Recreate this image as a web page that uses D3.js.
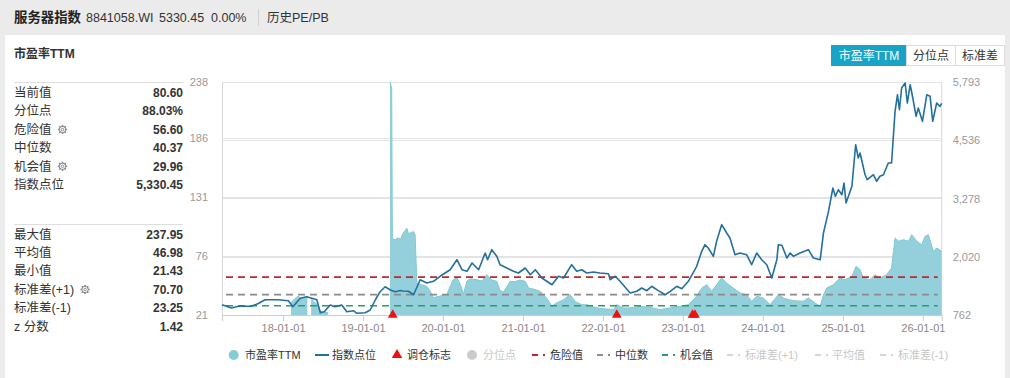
<!DOCTYPE html>
<html><head><meta charset="utf-8">
<script src="https://cdn.jsdelivr.net/npm/d3@7/dist/d3.min.js"></script>
<style>
body{margin:0;background:#ebebeb;}
svg{display:block;font-family:"Liberation Sans","Noto Sans CJK SC",sans-serif;}
</style>
</head><body>
<svg id="c" width="1010" height="378"></svg>
<script>
// ---------------- DATA ----------------
const indexSeries = [
["2017-03-28",984],["2017-05-10",913],["2017-06-11",950],["2017-08-09",950],["2017-09-10",1010],
["2017-10-11",1092],["2017-12-10",1092],["2018-01-25",1071],["2018-02-15",941],["2018-03-20",1122],
["2018-04-19",1157],["2018-06-04",1092],["2018-06-20",812],["2018-07-08",833],["2018-08-04",978],
["2018-08-26",941],["2018-09-26",978],["2018-10-19",833],["2018-11-18",855],["2018-12-04",799],
["2019-01-11",812],["2019-02-03",870],["2019-02-26",1086],["2019-03-20",1265],["2019-04-12",1373],
["2019-05-06",1302],["2019-05-28",1265],["2019-06-20",1290],["2019-07-04",1280],["2019-07-27",1274],
["2019-08-20",1200],["2019-09-19",1524],["2019-10-20",1453],["2019-11-19",1490],["2019-12-19",1598],
["2020-02-03",1740],["2020-03-05",1956],["2020-03-28",1740],["2020-04-20",1705],["2020-05-13",1885],
["2020-06-12",1740],["2020-07-12",2101],["2020-07-23",1956],["2020-08-11",2172],["2020-09-03",2029],
["2020-09-18",1848],["2020-10-19",1777],["2020-11-18",1705],["2020-12-11",1669],["2021-01-11",1777],
["2021-02-03",1632],["2021-02-26",1740],["2021-03-28",1561],["2021-05-13",1416],["2021-06-12",1598],
["2021-07-05",1561],["2021-08-11",1848],["2021-09-03",1705],["2021-09-26",1740],["2021-10-19",1669],
["2021-11-18",1690],["2021-12-18",1669],["2022-01-26",1654],["2022-02-03",1524],["2022-02-26",1598],
["2022-03-20",1490],["2022-05-05",1237],["2022-06-04",1274],["2022-06-27",1345],["2022-07-20",1287],
["2022-08-11",1382],["2022-09-11",1287],["2022-10-12",1200],["2022-11-04",1274],["2022-12-04",1382],
["2022-12-27",1330],["2023-01-26",1490],["2023-03-05",1813],["2023-03-28",2137],["2023-04-12",2280],
["2023-04-27",2209],["2023-05-20",2029],["2023-06-04",2353],["2023-06-27",2712],["2023-07-20",2532],
["2023-08-04",2424],["2023-08-27",2064],["2023-09-19",2101],["2023-10-19",2064],["2023-11-11",1848],
["2023-12-04",2101],["2023-12-27",1956],["2024-01-19",1848],["2024-02-11",1561],["2024-03-05",1956],
["2024-03-12",2280],["2024-03-28",2267],["2024-04-20",1993],["2024-05-05",2101],["2024-05-20",2029],
["2024-06-19",2101],["2024-07-27",2172],["2024-08-19",1993],["2024-09-19",1956],["2024-10-04",2532],
["2024-10-27",3001],["2024-11-16",3504],["2024-11-27",3325],["2024-12-11",3467],["2024-12-27",3359],
["2025-01-06",3612],["2025-01-15",3180],["2025-02-03",3433],["2025-02-11",3541],["2025-02-28",4439],
["2025-03-12",4151],["2025-03-20",4259],["2025-04-12",3791],["2025-04-22",3683],["2025-05-20",3791],
["2025-06-04",3649],["2025-06-19",3757],["2025-07-05",3791],["2025-07-27",4044],["2025-08-11",4044],
["2025-08-27",5160],["2025-09-07",5518],["2025-09-16",5194],["2025-09-26",5663],["2025-10-12",5771],
["2025-10-22",5339],["2025-11-04",5734],["2025-11-16",5447],["2025-12-01",5052],["2025-12-11",5231],
["2025-12-30",4944],["2026-01-19",5518],["2026-02-03",5484],["2026-02-15",4944],["2026-03-05",5339],
["2026-03-20",5268],["2026-03-28",5330.45]
];
const peSeries = [
["2018-02-06",33],["2018-02-15",35],["2018-03-11",39.1],["2018-03-22",36],["2018-04-07",38],["2018-04-22",37],
["2018-04-23",null],
["2018-05-09",37],["2018-05-20",34],["2018-06-11",30],["2018-06-20",25],["2018-06-29",24.5],["2018-07-26",23.5],
["2018-07-27",null],
["2019-05-04",237.95],["2019-05-12",232],["2019-05-15",92],["2019-05-28",91.5],["2019-06-11",93],["2019-06-22",92],
["2019-07-02",97],["2019-07-20",102],["2019-07-28",97],["2019-08-19",99],["2019-08-27",96],["2019-09-04",51],
["2019-09-19",50],["2019-10-19",48],["2019-11-03",44],["2019-11-18",37.5],["2019-12-18",39],["2020-01-18",40.3],
["2020-02-16",54],["2020-03-05",56.5],["2020-03-20",50],["2020-04-04",41],["2020-04-19",52.7],["2020-05-04",55],
["2020-06-04",54.2],["2020-06-27",53],["2020-07-19",58.9],["2020-08-11",54],["2020-09-03",52.7],["2020-09-18",44],
["2020-10-04",43],["2020-11-03",52.7],["2020-11-26",52.5],["2020-12-18",54],["2021-01-11",52.7],["2021-01-26",46.5],
["2021-02-18",45.5],["2021-03-20",43.5],["2021-04-19",37],["2021-05-13",29.5],["2021-06-04",32.7],["2021-07-05",35.6],
["2021-08-04",40.3],["2021-08-27",34],["2021-09-26",31],["2021-10-19",31],["2021-11-18",29],["2021-12-18",27.5],
["2022-01-18",27],["2022-02-18",26.5],["2022-03-05",31],["2022-04-04",28],["2022-05-04",28],["2022-06-19",29.5],
["2022-08-04",28.5],["2022-09-18",26.4],["2022-11-03",28],["2022-12-18",29.5],["2023-01-26",31],["2023-02-26",37.2],
["2023-03-28",46.5],["2023-04-20",49.6],["2023-05-12",43.5],["2023-06-04",49.6],["2023-06-27",55.8],["2023-07-20",51.2],
["2023-08-19",46.5],["2023-09-19",41.9],["2023-10-19",40.3],["2023-11-11",34.2],["2023-12-04",38.8],["2024-01-04",37.2],
["2024-02-03",31],["2024-03-12",40.3],["2024-04-04",37.2],["2024-05-04",35.4],["2024-06-04",34.5],["2024-07-04",34.2],
["2024-07-27",37.2],["2024-08-27",32.5],["2024-09-19",29.5],["2024-10-04",40.3],["2024-10-19",46.5],["2024-11-18",49.6],
["2024-12-18",55.8],["2025-01-11",54.2],["2025-02-11",57.4],["2025-03-02",66.7],["2025-03-20",63.5],["2025-04-04",55.8],
["2025-05-04",54.2],["2025-05-27",58.9],["2025-06-19",55.8],["2025-07-19",58.9],["2025-08-11",65.1],["2025-08-27",93],
["2025-09-11",90],["2025-10-04",91.4],["2025-10-27",90],["2025-11-11",96],["2025-12-04",90],["2025-12-27",86.8],
["2026-01-11",94.6],["2026-01-26",96],["2026-02-18",80.6],["2026-03-05",83.7],["2026-03-28",80.6]
];
const markerDates = ["2019-05-17","2022-03-05","2023-02-14","2023-02-25"];
const refLines = [
  {name:"危险值", value:56.60, color:"#c3272b"},
  {name:"中位数", value:40.37, color:"#8c8c8c"},
  {name:"机会值", value:29.96, color:"#2a9d68"}
];
const leftTicks = [21,76,131,186,238];
const rightTicks = [762,2020,3278,4536,5793];
const yearTicks = ["2018-01-01","2019-01-01","2020-01-01","2021-01-01","2022-01-01","2023-01-01","2024-01-01","2025-01-01","2026-01-01"];
const peDomain = [21.43, 237.95];
const idxDomain = [762, 5793];
const dateDomain = ["2017-03-28","2026-03-28"];
const statLabelsTop = ["当前值","分位点","危险值","中位数","机会值","指数点位"];
const statValuesTop = ["80.60","88.03%","56.60","40.37","29.96","5,330.45"];
const statGearTop = [false,false,true,false,true,false];
const statLabelsBottom = ["最大值","平均值","最小值","标准差(+1)","标准差(-1)","z 分数"];
const statValuesBottom = ["237.95","46.98","21.43","70.70","23.25","1.42"];
const statGearBottom = [false,false,false,true,false,false];
const legendNames = ["市盈率TTM","指数点位","调仓标志","分位点","危险值","中位数","机会值","标准差(+1)","平均值","标准差(-1)"];
const buttonLabels = ["市盈率TTM","分位点","标准差"];

// ---------------- DRAW ----------------
const parse = d3.timeParse("%Y-%m-%d");
const svg = d3.select("#c");
svg.append("rect").attr("width",1010).attr("height",378).attr("fill","#ebebeb");
svg.append("rect").attr("x",5).attr("y",35).attr("width",1000).attr("height",343).attr("fill","#fff");

// header
const hdr = svg.append("g").attr("fill","#333");
hdr.append("text").attr("x",14).attr("y",22).attr("font-size",13.4).attr("font-weight","bold")
  .attr("font-family","'Noto Sans CJK SC',sans-serif").attr("fill","#222").text("服务器指数");
hdr.append("text").attr("x",86).attr("y",21.5).attr("font-size",12.5).text("8841058.WI");
hdr.append("text").attr("x",159).attr("y",21.5).attr("font-size",12.5).text("5330.45");
hdr.append("text").attr("x",211).attr("y",21.5).attr("font-size",12.5).text("0.00%");
hdr.append("line").attr("x1",258.5).attr("x2",258.5).attr("y1",9).attr("y2",26).attr("stroke","#d0d0d0");
hdr.append("text").attr("x",267).attr("y",21.5).attr("font-size",12.5).text("历史PE/PB");

// chart title
svg.append("text").attr("x",14).attr("y",58).attr("font-size",12).attr("font-weight","bold")
  .attr("fill","#333").text("市盈率TTM");

// buttons
const btnX = [831,906,955,1004];
buttonLabels.forEach((b,i)=>{
  svg.append("rect").attr("x",btnX[i]+0.5).attr("y",45.5).attr("width",btnX[i+1]-btnX[i]).attr("height",20)
    .attr("fill", i===0?"#19a3c6":"#fff").attr("stroke", i===0?"#19a3c6":"#dcdcdc");
  svg.append("text").attr("x",(btnX[i]+btnX[i+1])/2+0.5).attr("y",60).attr("text-anchor","middle")
    .attr("font-size",12).attr("fill", i===0?"#fff":"#333").text(b);
});

// left stats panel
function gear(g, cx, cy){
  const gg = g.append("g").attr("transform",`translate(${cx},${cy})`).attr("stroke","#888").attr("fill","none");
  for(let k=0;k<8;k++){
    const a = k*Math.PI/4;
    gg.append("line").attr("x1",Math.cos(a)*3).attr("y1",Math.sin(a)*3)
      .attr("x2",Math.cos(a)*4.6).attr("y2",Math.sin(a)*4.6).attr("stroke-width",1.6);
  }
  gg.append("circle").attr("r",3.2).attr("stroke-width",1);
  gg.append("circle").attr("r",1.3).attr("stroke-width",0.9);
}
function statBlock(labels, values, gears, y0, sepY){
  svg.append("line").attr("x1",14).attr("x2",183).attr("y1",sepY).attr("y2",sepY).attr("stroke","#dedede");
  labels.forEach((l,i)=>{
    const y = y0 + i*18.4;
    const t = svg.append("text").attr("x",14).attr("y",y).attr("dy","0.35em").attr("font-size",12.5)
      .attr("fill","#333").text(l);
    svg.append("text").attr("x",183).attr("y",y).attr("dy","0.35em").attr("text-anchor","end")
      .attr("font-size",12).attr("font-weight","bold").attr("fill","#333").text(values[i]);
    if(gears[i]){
      const w = t.node().getComputedTextLength();
      gear(svg, 14 + w + 11, y);
    }
  });
}
statBlock(statLabelsTop, statValuesTop, statGearTop, 92.7, 82.5);
statBlock(statLabelsBottom, statValuesBottom, statGearBottom, 234.3, 224.5);

// scales
const X0=222, X1=941.7, YT=82, YB=315;
const x = d3.scaleTime().domain(dateDomain.map(parse)).range([X0,X1]);
const yL = d3.scaleLinear().domain(peDomain).range([YB,YT]);
const yR = d3.scaleLinear().domain(idxDomain).range([YB,YT]);

// gridlines (both axes)
const grid = svg.append("g").attr("stroke","#e4e4e4").attr("stroke-width",1);
leftTicks.forEach(t=>{ const yy=Math.round(yL(t))+0.5; grid.append("line").attr("x1",X0).attr("x2",X1).attr("y1",yy).attr("y2",yy); });
rightTicks.forEach(t=>{ const yy=Math.round(yR(t))+0.5; grid.append("line").attr("x1",X0).attr("x2",X1).attr("y1",yy).attr("y2",yy); });
svg.append("line").attr("x1",X0+0.5).attr("x2",X0+0.5).attr("y1",YT).attr("y2",YB).attr("stroke","#d8d8d8");
svg.append("line").attr("x1",X1).attr("x2",X1).attr("y1",YT).attr("y2",YB).attr("stroke","#d8d8d8");

// PE area
const peData = peSeries.map(d=>({date:parse(d[0]), v:d[1]}));
const area = d3.area().defined(d=>d.v!==null).x(d=>x(d.date)).y0(YB).y1(d=>yL(d.v));
const topLine = d3.line().defined(d=>d.v!==null).x(d=>x(d.date)).y(d=>yL(d.v));
svg.append("path").datum(peData).attr("d",area).attr("fill","#93d0db");
svg.append("path").datum(peData).attr("d",topLine).attr("fill","none").attr("stroke","#82c8d4").attr("stroke-width",1);

// reference dashed lines
refLines.forEach(r=>{
  svg.append("line").attr("x1",X0+4).attr("x2",X1-4).attr("y1",yL(r.value)).attr("y2",yL(r.value))
    .attr("stroke",r.color).attr("stroke-width",1.6).attr("stroke-dasharray","7,5");
});

// index line
const idxData = indexSeries.map(d=>({date:parse(d[0]), v:d[1]}));
svg.append("path").datum(idxData)
  .attr("d", d3.line().x(d=>x(d.date)).y(d=>yR(d.v)))
  .attr("fill","none").attr("stroke","#23709c").attr("stroke-width",1.6).attr("stroke-linejoin","round");

// axes
const axL = svg.append("g").attr("transform",`translate(${X0},0)`)
  .call(d3.axisLeft(yL).tickValues(leftTicks).tickSize(0).tickPadding(14).tickFormat(d3.format("d")));
axL.select(".domain").remove();
axL.selectAll("text").attr("fill","#999").attr("font-size",11).attr("font-family","'Liberation Sans',sans-serif");

const axR = svg.append("g").attr("transform",`translate(${X1},0)`)
  .call(d3.axisRight(yR).tickValues(rightTicks).tickSize(0).tickPadding(11).tickFormat(d3.format(",")));
axR.select(".domain").remove();
axR.selectAll("text").attr("fill","#999").attr("font-size",11).attr("font-family","'Liberation Sans',sans-serif");

const axB = svg.append("g").attr("transform",`translate(0,${YB})`)
  .call(d3.axisBottom(x).tickValues(yearTicks.map(parse)).tickSize(6).tickPadding(3).tickFormat(d3.timeFormat("%y-%m-%d")));
axB.select(".domain").attr("stroke","#ccc");
axB.selectAll(".tick line").attr("stroke","#ccc");
axB.selectAll("text").attr("fill","#888").attr("font-size",11).attr("font-family","'Liberation Sans',sans-serif");

// markers
svg.selectAll(".mk").data(markerDates).enter().append("path")
  .attr("d", d3.symbol().type(d3.symbolTriangle).size(42))
  .attr("transform", d=>`translate(${x(parse(d))},${YB})`).attr("fill","#ee1111");

// legend
const LY = 355;
const lg = svg.append("g").attr("font-size",11);
const legendLayout = [
  {type:"circle", ix:233.7, tx:245, color:"#86cbd6", on:true},
  {type:"line", ix:315, tx:332, color:"#23709c", on:true},
  {type:"tri", ix:397, tx:407, color:"#ee1111", on:true},
  {type:"circle", ix:472, tx:483, color:"#cccccc", on:false},
  {type:"dash", ix:532, tx:550, color:"#c3272b", on:true},
  {type:"dash", ix:597, tx:615, color:"#8c8c8c", on:true},
  {type:"dash", ix:662, tx:680, color:"#2a9d68", on:true},
  {type:"dash", ix:727, tx:745, color:"#d6d6d6", on:false},
  {type:"dash", ix:815, tx:832, color:"#d6d6d6", on:false},
  {type:"dash", ix:880, tx:898, color:"#d6d6d6", on:false}
];
legendNames.forEach((n,i)=>{
  const L = legendLayout[i];
  if(L.type==="circle") lg.append("circle").attr("cx",L.ix).attr("cy",LY).attr("r",5).attr("fill",L.color);
  if(L.type==="line") lg.append("line").attr("x1",L.ix).attr("x2",L.ix+14).attr("y1",LY).attr("y2",LY).attr("stroke",L.color).attr("stroke-width",2);
  if(L.type==="tri") lg.append("path").attr("d",d3.symbol().type(d3.symbolTriangle).size(48)).attr("transform",`translate(${L.ix},${LY})`).attr("fill",L.color);
  if(L.type==="dash") lg.append("line").attr("x1",L.ix).attr("x2",L.ix+15).attr("y1",LY).attr("y2",LY).attr("stroke",L.color).attr("stroke-width",2).attr("stroke-dasharray","6,5,2,5");
  lg.append("text").attr("x",L.tx).attr("y",LY).attr("dy","0.36em").attr("fill",L.on?"#333":"#c8c8c8").text(n);
});
</script>
</body></html>
